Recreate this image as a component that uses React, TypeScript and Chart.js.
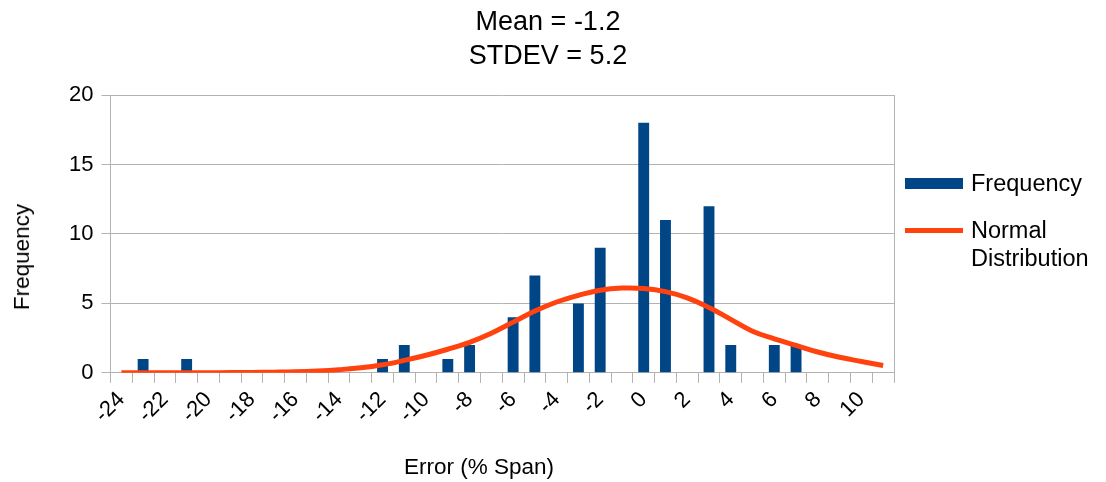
import React, { useEffect, useRef } from 'react';
import { Chart, registerables } from 'chart.js';

Chart.register(...registerables);

// Histogram bins (% span), one per category
const errorBins = [
  '-24', '-23', '-22', '-21', '-20', '-19', '-18', '-17', '-16', '-15', '-14', '-13',
  '-12', '-11', '-10', '-9', '-8', '-7', '-6', '-5', '-4', '-3', '-2', '-1',
  '0', '1', '2', '3', '4', '5', '6', '7', '8', '9', '10', '11',
];

// Count of readings falling in each bin
const frequency = [
  0, 1, 0, 1, 0, 0, 0, 0, 0, 0, 0, 0,
  1, 2, 0, 1, 2, 0, 4, 7, 0, 5, 9, 0,
  18, 11, 0, 12, 2, 0, 2, 2, 0, 0, 0, 0,
];

// Fitted normal curve, expressed in counts per bin
const normalDistribution = [
  0.0, 0.0, 0.0, 0.01, 0.01, 0.02, 0.03, 0.05, 0.08, 0.14, 0.23, 0.36,
  0.58, 0.9, 1.27, 1.7, 2.2, 2.85, 3.65, 4.45, 5.1, 5.58, 5.95, 6.1,
  6.07, 5.85, 5.4, 4.7, 3.85, 3.0, 2.45, 1.98, 1.5, 1.12, 0.82, 0.53,
];

const titleLines = ['Mean = -1.2', 'STDEV = 5.2'];
const yTicks = [0, 5, 10, 15, 20];
const xAxisTitle = 'Error (% Span)';
const yAxisTitle = 'Frequency';

const FONT = "'Liberation Sans', Arial, sans-serif";
const BAR_COLOR = '#004586';
const LINE_COLOR = '#ff420e';
const GRID_COLOR = '#b3b3b3';

// Closes the plot frame on its right-hand side
const rightFrame = {
  id: 'rightFrame',
  beforeDatasetsDraw(chart: any) {
    const { ctx, chartArea } = chart;
    ctx.save();
    ctx.strokeStyle = GRID_COLOR;
    ctx.lineWidth = 1;
    ctx.beginPath();
    ctx.moveTo(Math.round(chartArea.right) + 0.5, chartArea.top);
    ctx.lineTo(Math.round(chartArea.right) + 0.5, chartArea.bottom);
    ctx.stroke();
    ctx.restore();
  },
};

export default function App() {
  const canvasRef = useRef<HTMLCanvasElement | null>(null);

  useEffect(() => {
    const canvas = canvasRef.current;
    if (!canvas) return;
    const chart = new Chart(canvas, {
      type: 'bar',
      data: {
        labels: errorBins,
        datasets: [
          {
            type: 'line',
            label: 'Normal Distribution',
            data: normalDistribution,
            borderColor: LINE_COLOR,
            backgroundColor: LINE_COLOR,
            borderWidth: 5,
            pointRadius: 0,
            tension: 0.4,
            order: 0,
          },
          {
            type: 'bar',
            label: 'Frequency',
            data: frequency,
            backgroundColor: BAR_COLOR,
            borderWidth: 0,
            categoryPercentage: 1,
            barPercentage: 0.5,
            order: 1,
          },
        ],
      },
      options: {
        animation: false,
        responsive: false,
        maintainAspectRatio: false,
        layout: { padding: { left: 61, right: 212, top: 95, bottom: 50 } },
        plugins: {
          legend: { display: false },
          tooltip: { enabled: false },
          title: { display: false },
        },
        scales: {
          x: {
            offset: true,
            grid: {
              offset: true,
              drawOnChartArea: false,
              drawTicks: true,
              tickLength: 10,
              color: GRID_COLOR,
            },
            border: { display: true, color: GRID_COLOR },
            ticks: {
              autoSkip: false,
              maxRotation: 45,
              minRotation: 45,
              color: '#000',
              font: { family: FONT, size: 22 },
              padding: 4,
              callback: (_v: any, i: number) => (Number(errorBins[i]) % 2 === 0 ? errorBins[i] : ''),
            },
          },
          y: {
            min: 0,
            max: 20,
            afterBuildTicks: (scale: any) => {
              scale.ticks = yTicks.map((v) => ({ value: v }));
            },
            grid: { color: GRID_COLOR, tickLength: 9 },
            border: { display: true, color: GRID_COLOR },
            ticks: {
              color: '#000',
              font: { family: FONT, size: 22 },
              padding: 8,
            },
          },
        },
      },
      plugins: [rightFrame],
    });
    return () => chart.destroy();
  }, []);

  const text: React.CSSProperties = {
    fontFamily: FONT,
    color: '#000',
    whiteSpace: 'nowrap',
  };

  return (
    <div style={{ position: 'fixed', left: 0, top: 0, width: 1106, height: 482, background: '#fff' }}>
      <canvas ref={canvasRef} width={1106} height={482} style={{ display: 'block' }} />

      {/* chart title */}
      <div
        style={{
          ...text,
          position: 'absolute',
          left: 548,
          top: 4,
          transform: 'translateX(-50%)',
          fontSize: 27,
          lineHeight: '34px',
          textAlign: 'center',
        }}
      >
        {titleLines.map((t) => (
          <div key={t}>{t}</div>
        ))}
      </div>

      {/* axis titles */}
      <div
        style={{
          ...text,
          position: 'absolute',
          left: 479,
          top: 467,
          transform: 'translate(-50%, -50%)',
          fontSize: 22.5,
          lineHeight: '26px',
        }}
      >
        {xAxisTitle}
      </div>
      <div
        style={{
          ...text,
          position: 'absolute',
          left: 22,
          top: 257,
          transform: 'translate(-50%, -50%) rotate(-90deg)',
          fontSize: 22.5,
          lineHeight: '26px',
        }}
      >
        {yAxisTitle}
      </div>

      {/* legend */}
      <div style={{ position: 'absolute', left: 905, top: 169, display: 'flex', alignItems: 'center' }}>
        <div style={{ width: 58, height: 11, background: BAR_COLOR, marginRight: 8 }} />
        <div style={{ ...text, fontSize: 23.5, lineHeight: '28px' }}>Frequency</div>
      </div>
      <div style={{ position: 'absolute', left: 905, top: 216, display: 'flex', alignItems: 'flex-start' }}>
        <div style={{ width: 58, height: 5, background: LINE_COLOR, marginRight: 8, marginTop: 12 }} />
        <div style={{ ...text, fontSize: 23.5, lineHeight: '28px' }}>
          Normal
          <br />
          Distribution
        </div>
      </div>
    </div>
  );
}
